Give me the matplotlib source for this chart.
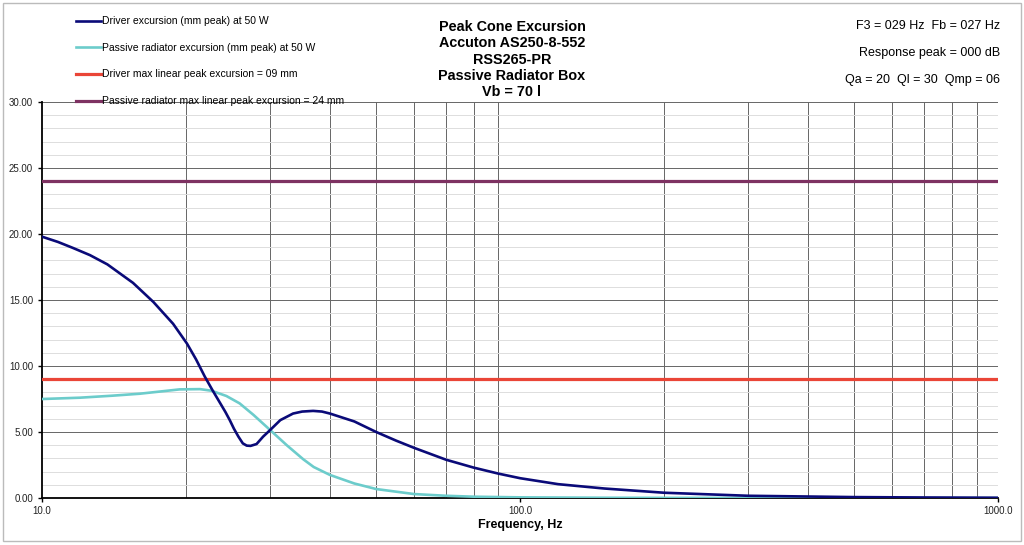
import matplotlib.pyplot as plt
from matplotlib.ticker import FixedLocator, MultipleLocator, NullFormatter

plt.rcParams['font.family'] = ['Liberation Sans', 'DejaVu Sans']

# frequencies (Hz)
freq_drv = [10, 10.8, 11.6, 12.6, 13.7, 15.5, 17.1, 18.8, 20.1, 21.0, 21.9, 22.7, 23.6, 24.2,
            24.7, 25.2, 25.75, 26.3, 26.8, 27.3, 28.1, 29.0, 30, 31.5, 33.5, 35,
            36.9, 38.5, 40, 45, 50, 55, 60, 70, 80, 90, 100, 120, 150, 200, 300, 500, 700, 1000]
drv_mm = [19.8, 19.4, 18.95, 18.4, 17.7, 16.3, 14.85, 13.2, 11.7, 10.5, 9.2, 8.2, 7.17, 6.5,
          5.9, 5.25, 4.65, 4.14, 3.97, 3.95, 4.09, 4.65, 5.15, 5.9, 6.4, 6.55,
          6.6, 6.55, 6.4, 5.8, 5.0, 4.35, 3.8, 2.9, 2.3, 1.85, 1.5, 1.05, 0.72, 0.4, 0.17, 0.07, 0.04, 0.02]

freq_pr = [10, 12, 14, 16, 18, 19.4, 21.4, 22.6, 24.3, 25.9, 27.7, 30,
           32.5, 35.2, 37, 40, 45, 50, 60, 70, 80, 100, 150, 200, 500, 1000]
pr_mm = [7.5, 7.6, 7.75, 7.9, 8.1, 8.23, 8.25, 8.13, 7.73, 7.17, 6.29, 5.15,
         4.0, 2.93, 2.35, 1.75, 1.1, 0.68, 0.3, 0.17, 0.1, 0.05, 0.02, 0.01, 0.0, 0.0]

driver_xmax = 9.0
pr_xmax = 24.0

labels = ['Driver excursion (mm peak) at 50 W',
          'Passive radiator excursion (mm peak) at 50 W',
          'Driver max linear peak excursion = 09 mm',
          'Passive radiator max linear peak excursion = 24 mm']

title_lines = ['Peak Cone Excursion', 'Accuton AS250-8-552', 'RSS265-PR',
               'Passive Radiator Box', 'Vb = 70 l']
info_lines = ['F3 = 029 Hz  Fb = 027 Hz', 'Response peak = 000 dB', 'Qa = 20  Ql = 30  Qmp = 06']

fig = plt.figure(figsize=(10.24, 5.45), dpi=100)
ax = fig.add_axes([0.041, 0.0862, 0.934, 0.7266])

ax.set_xscale('log')
ax.set_xlim(10, 1000)
ax.set_ylim(0, 30)

l1, = ax.plot(freq_drv, drv_mm, color='#0a0a78', lw=1.9, zorder=5)
l2, = ax.plot(freq_pr, pr_mm, color='#6ccccb', lw=1.9, zorder=4)
l3 = ax.axhline(driver_xmax, color='#ea4537', lw=2.3, zorder=3)
l4 = ax.axhline(pr_xmax, color='#7e3262', lw=2.3, zorder=3)

# grid
ax.yaxis.set_major_locator(MultipleLocator(5))
ax.yaxis.set_minor_locator(MultipleLocator(1))
ax.set_yticklabels([f'{v:.2f}' for v in ax.get_yticks()])
ax.grid(which='major', axis='y', color='#666666', lw=0.7)
ax.grid(which='minor', axis='y', color='#dddddd', lw=0.7)

ax.xaxis.set_major_locator(FixedLocator([10, 100, 1000]))
ax.set_xticklabels(['10.0', '100.0', '1000.0'])
ax.xaxis.set_minor_locator(FixedLocator([20, 30, 40, 50, 60, 70, 80, 90,
                                         200, 300, 400, 500, 600, 700, 800, 900]))
ax.xaxis.set_minor_formatter(NullFormatter())
ax.grid(which='minor', axis='x', color='#666666', lw=0.7)
ax.set_axisbelow(True)

ax.tick_params(axis='both', which='major', labelsize=7, length=3, width=1, direction='out',
               color='black', labelcolor='#222222')
ax.tick_params(axis='both', which='minor', length=0)
ax.tick_params(axis='x', pad=3)

for side in ('top', 'right'):
    ax.spines[side].set_visible(False)
ax.spines['left'].set_linewidth(1.3)
ax.spines['bottom'].set_linewidth(1.3)

ax.set_xlabel('Frequency, Hz', fontsize=9, fontweight='bold', labelpad=2)

fig.legend([l1, l2, l3, l4], labels, loc='upper left', bbox_to_anchor=(0.07, 0.978),
           frameon=False, fontsize=7.5, labelspacing=1.6, handlelength=2.4,
           handletextpad=0.1, borderaxespad=0)

for i, t in enumerate(title_lines):
    fig.text(0.5, 1 - (27 + 16.3 * i) / 545, t, ha='center', va='center',
             fontsize=10.4, fontweight='bold')

for i, t in enumerate(info_lines):
    fig.text(0.977, 1 - (26 + 27 * i) / 545, t, ha='right', va='center', fontsize=9)

# outer frame
fig.patches.append(plt.Rectangle((0.003, 0.008), 0.994, 0.986, transform=fig.transFigure,
                                 fill=False, edgecolor='#bbbbbb', lw=1))

fig.savefig('out.png', dpi=100)
